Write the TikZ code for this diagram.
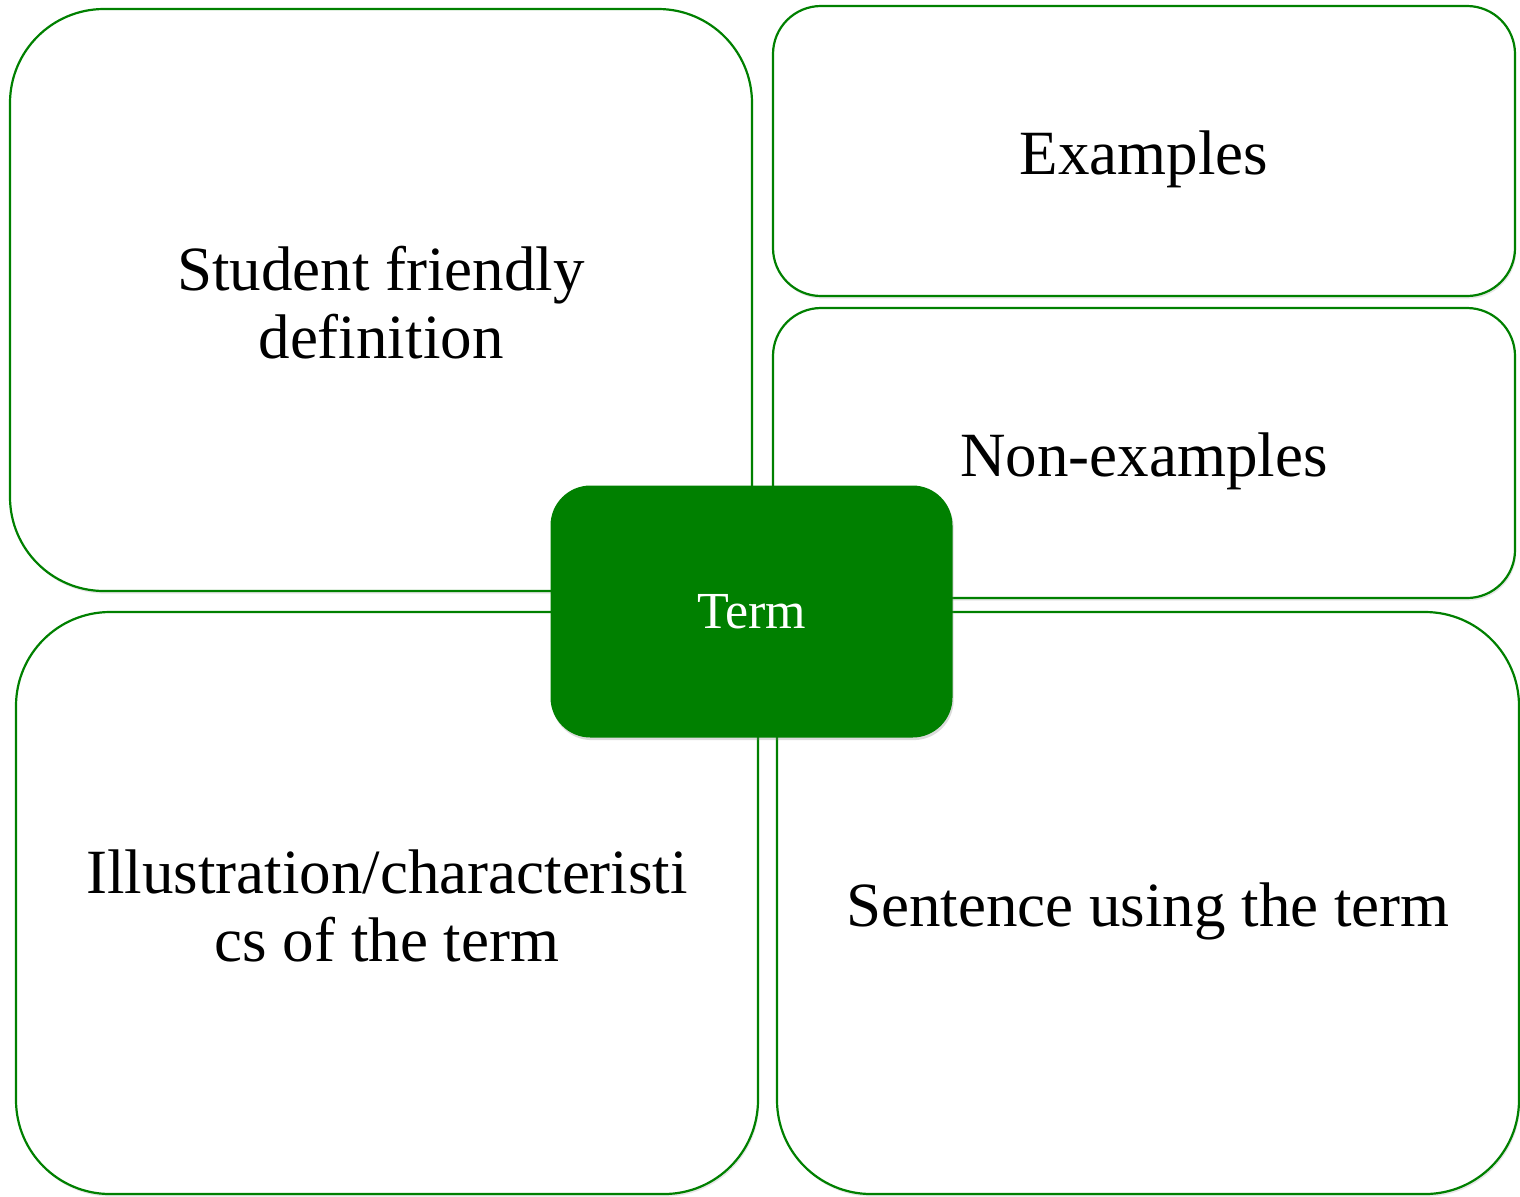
\documentclass[tikz,border=0pt]{standalone}
\usepackage{fontspec}
\setmainfont{Liberation Serif}
\usepackage{tikz}
\usepackage{xcolor}
\usetikzlibrary{shapes,shadows}
\definecolor{termgreen}{RGB}{0,128,0}

\begin{document}
\begin{tikzpicture}[
    x=0.5pt, y=-0.5pt,
    cardtext/.style={font=\fontsize{31.5}{34}\selectfont, align=center, yshift=-4pt},
    bigcard/.style={
        rectangle, rounded corners=47pt, draw=termgreen, line width=1.1pt,
        fill=white,
        minimum width=371pt, minimum height=291pt,
        drop shadow={opacity=0.2, shadow xshift=0.6pt, shadow yshift=-1.3pt}
    },
    smallcard/.style={
        rectangle, rounded corners=24pt, draw=termgreen, line width=1.1pt,
        fill=white,
        minimum width=371pt, minimum height=145pt,
        drop shadow={opacity=0.2, shadow xshift=0.6pt, shadow yshift=-1.3pt}
    },
    term/.style={
        rectangle, rounded corners=20pt, fill=termgreen, text=white,
        minimum width=201pt, minimum height=126pt,
        font=\fontsize{26}{30}\selectfont, text depth=0pt,
        drop shadow={opacity=0.28, shadow xshift=0.6pt, shadow yshift=-1.3pt}
    }
]
\useasboundingbox (0,0) rectangle (1520,1196);

% Definition
\node[bigcard, label={[cardtext, yshift=2.5pt]center:Student friendly\\definition}]
    (definition) at (381,300) {};

% Examples
\node[smallcard, label={[cardtext]center:Examples}] (examples) at (1144,151) {};
\node[smallcard, label={[cardtext]center:Non-examples}] (nonexamples) at (1144,453) {};

% Illustration
\node[bigcard, label={[cardtext, yshift=2.5pt]center:Illustration/characteristi\\cs of the term}]
    (illustration) at (387,903) {};

% Sentence
\node[bigcard, label={[cardtext]center:Sentence using the term}]
    (sentence) at (1148,903) {};

% Term
\node[term] (term) at (751.5,611.5) {Term};

\end{tikzpicture}
\end{document}
